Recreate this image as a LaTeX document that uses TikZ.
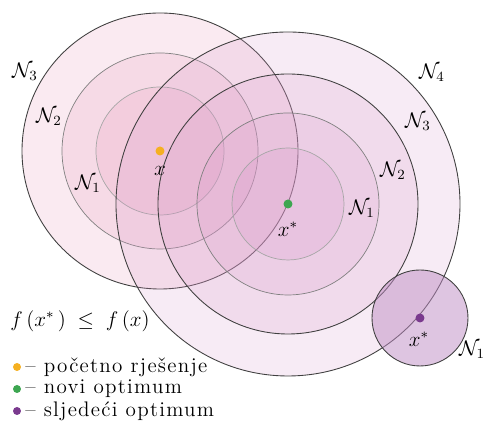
\documentclass[tikz,border=0pt]{standalone}
\usepackage{fontspec}
\usepackage{tikz}
\usetikzlibrary{calc}
\newfontfamily\legendfont[LetterSpace=6]{Latin Modern Roman}
\definecolor{leftfill}{HTML}{E8A0BE}
\definecolor{rightfill}{HTML}{D796C8}
\definecolor{nextfill}{HTML}{BE8CC3}
\definecolor{startdot}{HTML}{F5B021}
\definecolor{bestdot}{HTML}{3DA651}
\definecolor{nextdot}{HTML}{7A3A8E}
\tikzset{
  hoodouter/.style={draw=black!75, line width=0.5pt},
  hoodmid/.style={draw=black!50, line width=0.4pt},
  hoodinner/.style={draw=black!35, line width=0.4pt},
  leftdisc/.style={fill=leftfill, fill opacity=0.22},
  rightdisc/.style={fill=rightfill, fill opacity=0.19},
  nextdisc/.style={fill=nextfill, fill opacity=0.5},
  dot/.style={circle, inner sep=0pt, minimum size=0.18cm},
  legdot/.style={circle, inner sep=0pt, minimum size=0.16cm},
  hoodlabel/.style={inner sep=1pt, font=\large},
  legtext/.style={anchor=west, inner sep=0pt, font=\large\legendfont}
}

\begin{document}
\begin{tikzpicture}[x=0.02cm,y=0.02cm]
  \useasboundingbox (0,0) rectangle (488,421);
  \coordinate (ctrx) at (160,270);
  \coordinate (ctrbest) at (288,217);
  \coordinate (ctrnext) at (420,103);

  % Neighbourhoods of the starting solution.
  \foreach \r/\s in {138/hoodouter,98/hoodmid,64/hoodinner}
    \draw[\s,leftdisc] (ctrx) circle[radius=\r];

  % Neighbourhoods of the new optimum.
  \foreach \r/\s in {172/hoodouter,130/hoodouter,91/hoodmid,56/hoodinner}
    \draw[\s,rightdisc] (ctrbest) circle[radius=\r];

  % Next optimum and its first neighbourhood.
  \draw[hoodouter,nextdisc] (ctrnext) circle[radius=48];

  \node[dot,fill=startdot] (xstart) at (ctrx) {};
  \node[dot,fill=bestdot] (xbest) at (ctrbest) {};
  \node[dot,fill=nextdot] (xnext) at (ctrnext) {};

  \node[hoodlabel] (lx) at (160,250) {$x$};
  \node[hoodlabel] (lxbest) at (288,192) {$x^*$};
  \node[hoodlabel] (lxnext) at (419,82) {$x^*$};

  \node[hoodlabel] (ln3) at (25,349) {$\mathcal{N}_3$};
  \node[hoodlabel] (ln2) at (49,304) {$\mathcal{N}_2$};
  \node[hoodlabel] (ln1) at (88,237) {$\mathcal{N}_1$};
  \node[hoodlabel] (rn4) at (432,348) {$\mathcal{N}_4$};
  \node[hoodlabel] (rn3) at (418,299) {$\mathcal{N}_3$};
  \node[hoodlabel] (rn2) at (393,250) {$\mathcal{N}_2$};
  \node[hoodlabel] (rn1) at (362,212) {$\mathcal{N}_1$};
  \node[hoodlabel,anchor=east] (sn1) at (487,71) {$\mathcal{N}_1$};

  \node[hoodlabel] (cond) at (80,100) {$f\,(x^{*}\,)\;\le\;f\,(x)$};

  % Legend.
  \node[legdot,fill=startdot] (kstart) at (17,54) {};
  \node[legdot,fill=bestdot] (kbest) at (17,32) {};
  \node[legdot,fill=nextdot] (knext) at (17,10) {};
  \node[legtext] (tstart) at (25,54) {\textendash{} početno rješenje};
  \node[legtext] (tbest) at (25,32) {\textendash{} novi optimum};
  \node[legtext] (tnext) at (25,10) {\textendash{} sljedeći optimum};
\end{tikzpicture}
\end{document}
